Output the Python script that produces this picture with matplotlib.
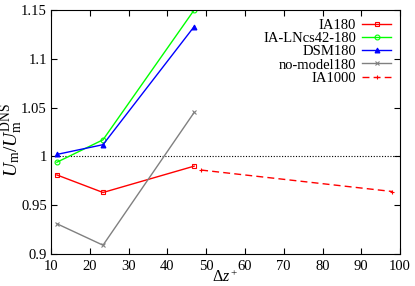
import matplotlib
matplotlib.use("Agg")
import matplotlib.pyplot as plt

plt.rcParams['font.family'] = ['Liberation Serif', 'DejaVu Serif']
plt.rcParams['mathtext.fontset'] = 'custom'
plt.rcParams['mathtext.rm'] = 'Liberation Serif'
plt.rcParams['mathtext.it'] = 'Liberation Serif:italic'

x180 = [11.5, 23.4, 46.9]
ia180 = [0.981, 0.963, 0.990]
ialn = [0.994, 1.017, 1.150]
dsm = [1.002, 1.012, 1.133]
nomodel = [0.931, 0.909, 1.045]
x1000 = [48.7, 98.0]
ia1000 = [0.986, 0.964]

fig = plt.figure(figsize=(4.15, 2.86), dpi=100)
ax = fig.add_axes([0.123, 0.112, 0.841, 0.853])

ax.axhline(1.0, color='black', lw=0.8, ls=(0, (1, 1.5)))
ax.plot(x180, ia180, color='#ff0000', lw=1, marker='s', ms=3.5, mfc='none', mew=0.8, label='IA180')
ax.plot(x180, ialn, color='#00ff00', lw=1, marker='o', ms=3.5, mfc='none', mew=0.8, label='IA-LNcs42-180')
ax.plot(x180, dsm, color='#0000ff', lw=1, marker='^', ms=3.5, mew=0.8, label='DSM180')
ax.plot(x180, nomodel, color='#808080', lw=1, marker='x', ms=3.5, mew=0.8, label='no-model180')
ax.plot(x1000, ia1000, color='#ff0000', lw=1, ls=(0, (5, 3)), marker='+', ms=3.5, mew=0.8, label='IA1000')

ax.set_xlim(10, 100)
ax.set_ylim(0.9, 1.15)
ax.set_xticks(range(10, 101, 10))
ax.set_yticks([0.9, 0.95, 1.0, 1.05, 1.1, 1.15])
ax.set_yticklabels(['0.9', '0.95', '1', '1.05', '1.1', '1.15'])
ax.tick_params(direction='in', top=True, right=True, labelsize=10.5, length=4)
ax.tick_params(axis='x', pad=4)
ax.tick_params(axis='y', pad=3)
ax.set_xlabel(r'$\Delta z^+$', fontsize=11.5)
ax.xaxis.set_label_coords(0.5, -0.065)
ax.set_ylabel(r'$U_\mathrm{m}/U_\mathrm{m}^\mathrm{DNS}$', fontsize=14)
ax.yaxis.set_label_coords(-0.075, 0.47)

ax.legend(loc='upper right', frameon=False, markerfirst=False, fontsize=10.5,
          handlelength=2.0, labelspacing=0.0, borderaxespad=0.2, handletextpad=0.4)

fig.savefig('out.png', dpi=100)
